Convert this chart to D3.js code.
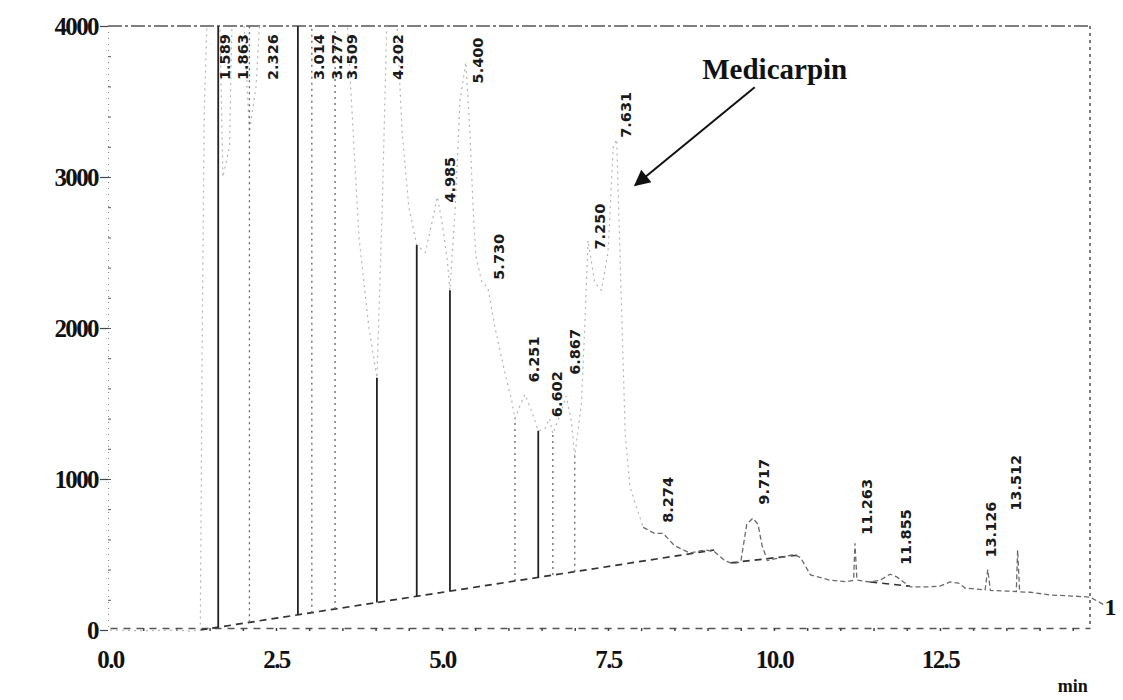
<!DOCTYPE html>
<html>
<head>
<meta charset="utf-8">
<script src="https://cdn.jsdelivr.net/npm/d3@7"></script>
<style>
  body { margin: 0; background: #fff; }
  svg { display: block; }
</style>
</head>
<body>
<svg id="chart" width="1123" height="700"></svg>
<script>
// labelled peaks (retention time, min)
const peakTimes = [1.589, 1.863, 2.326, 3.014, 3.277, 3.509, 4.202, 4.985, 5.400, 5.730, 6.251, 6.602, 6.867, 7.250, 7.631, 8.274, 9.717, 11.263, 11.855, 13.126, 13.512]
const peakLabels = ['1.589', '1.863', '2.326', '3.014', '3.277', '3.509', '4.202', '4.985', '5.400', '5.730', '6.251', '6.602', '6.867', '7.250', '7.631', '8.274', '9.717', '11.263', '11.855', '13.126', '13.512']
// level where the printer put each label (4500 = off scale)
const peakHeights = [4500, 4500, 4500, 4500, 4500, 4500, 4500, 2790, 3580, 2280, 1600, 1370, 1650, 2480, 3220, 670, 790, 590, 390, 440, 750]

// detector trace
const traceTimes = [0, 0.5, 1.0, 1.2, 1.36, 1.39, 1.42, 1.5, 1.63, 1.7, 1.8, 1.863, 1.95, 2.1, 2.2, 2.326, 2.5, 2.7, 2.83, 3.014, 3.1, 3.2, 3.277, 3.4, 3.509, 3.6, 3.75, 3.9, 4.02, 4.1, 4.202, 4.3, 4.4, 4.5, 4.62, 4.75, 4.85, 4.93, 5.0, 5.08, 5.12, 5.2, 5.27, 5.36, 5.42, 5.47, 5.51, 5.6, 5.69, 5.8, 5.95, 6.05, 6.1, 6.17, 6.25, 6.35, 6.45, 6.55, 6.62, 6.67, 6.8, 6.87, 6.95, 7.0, 7.1, 7.15, 7.2, 7.3, 7.4, 7.5, 7.58, 7.631, 7.71, 7.76, 7.83, 8.03, 8.2, 8.33, 8.5, 8.73, 8.96, 9.1, 9.26, 9.38, 9.5, 9.59, 9.68, 9.76, 9.82, 9.9, 10.1, 10.3, 10.4, 10.55, 10.84, 11.1, 11.2, 11.22, 11.25, 11.45, 11.6, 11.75, 11.855, 12.05, 12.3, 12.5, 12.65, 12.78, 12.88, 13.18, 13.22, 13.26, 13.5, 13.65, 13.67, 13.7, 13.86, 14.16, 14.5, 14.76, 15.0]
const traceValues = [0, -5, 0, -8, 0, 2000, 3440, 4600, 4600, 3000, 3200, 4600, 4600, 3300, 3600, 4600, 4600, 4000, 4600, 4600, 4000, 4200, 4600, 4200, 4600, 3800, 2600, 2000, 1670, 2800, 4600, 4200, 3300, 2800, 2550, 2500, 2700, 2870, 2700, 2450, 2250, 2800, 3500, 3760, 3300, 2780, 2480, 2300, 2270, 2000, 1700, 1520, 1400, 1480, 1560, 1450, 1320, 1330, 1400, 1300, 1450, 1550, 1380, 1150, 1500, 2000, 2580, 2300, 2250, 2500, 3200, 3250, 2050, 1300, 950, 680, 640, 640, 560, 510, 530, 520, 460, 440, 450, 700, 740, 700, 560, 460, 480, 500, 480, 365, 330, 320, 330, 575, 330, 318, 330, 370, 350, 285, 285, 290, 318, 310, 278, 265, 400, 262, 258, 255, 530, 252, 250, 232, 225, 218, 160]

// integration baselines
const baseTimes = [1.36, 9.1]
const baseValues = [0, 530]
const base2Times = [9.35, 10.35]
const base2Values = [445, 495]
const base3Times = [11.45, 12.05]
const base3Values = [318, 290]

// peak start / valley drop lines
const dropTimes = [1.63, 2.10, 2.83, 3.04, 3.39, 4.02, 4.62, 5.12, 6.10, 6.45, 6.67, 7.00]
const dropTops = [4600, 4600, 4600, 4600, 4600, 1670, 2550, 2250, 1400, 1320, 1300, 1150]
const dropSolid = [true, false, true, false, false, true, true, true, false, true, false, false]

const yTicks = [0, 1000, 2000, 3000, 4000]
const xTicks = [0, 2.5, 5, 7.5, 10, 12.5]

// annotation
const noteText = 'Medicarpin'
const notePos = [8.92, 3648]
const arrowFrom = [9.71, 3595]
const arrowTo = [7.91, 2946]

const d3 = window.d3
const svg = d3.select('#chart')

const x = d3.scaleLinear().domain([0, 14.76]).range([110, 1090])
const y = d3.scaleLinear().domain([0, 4000]).range([630, 26])
const x0 = x(0), x1 = x(14.76), yTop = y(4000), yBot = y(0)
const serif = '"Liberation Serif", "Times New Roman", serif'

const defs = svg.append('defs')
defs.append('clipPath').attr('id', 'plot')
  .append('rect')
  .attr('x', x0 - 2).attr('y', yTop)
  .attr('width', x1 - x0 + 40).attr('height', yBot - yTop + 10)

defs.append('marker')
  .attr('id', 'head')
  .attr('viewBox', '0 0 10 10')
  .attr('refX', 9).attr('refY', 5)
  .attr('markerWidth', 24).attr('markerHeight', 16)
  .attr('markerUnits', 'userSpaceOnUse')
  .attr('orient', 'auto')
  .append('path')
  .attr('d', 'M0,0 L10,5 L0,10 Z')
  .attr('fill', '#111')

// frame: top and right, printed as broken lines
svg.append('line')
  .attr('x1', x0 - 2).attr('x2', x1).attr('y1', yTop).attr('y2', yTop)
  .attr('stroke', '#555').attr('stroke-width', 1.4)
  .attr('stroke-dasharray', '14,3,3,3')
svg.append('line')
  .attr('x1', x1).attr('x2', x1).attr('y1', yTop).attr('y2', yBot - 4)
  .attr('stroke', '#444').attr('stroke-width', 1.4)
  .attr('stroke-dasharray', '3,4')

// y axis
const yAxis = svg.append('g')
  .attr('transform', 'translate(' + (x0 - 2) + ',0)')
  .call(d3.axisLeft(y).tickValues(yTicks).tickSize(8).tickPadding(2).tickFormat(d => d))
yAxis.select('.domain').attr('stroke', '#888').attr('stroke-dasharray', '1,5')
yAxis.selectAll('.tick line').attr('stroke', '#444').attr('stroke-width', 1.2)
yAxis.selectAll('text')
  .attr('font-family', serif)
  .attr('font-weight', 'bold').attr('font-size', 25)
  .attr('letter-spacing', -1.6).attr('fill', '#111')

// y minor ticks every 200
svg.append('g')
  .attr('transform', 'translate(' + (x0 - 2) + ',0)')
  .call(d3.axisRight(y).tickValues(d3.range(200, 4000, 200)).tickSize(3).tickFormat(''))
  .call(g => g.select('.domain').remove())
  .selectAll('line').attr('stroke', '#555')

// x axis
const xAxis = svg.append('g')
  .attr('transform', 'translate(0,' + (yBot - 2) + ')')
  .call(d3.axisBottom(x).tickValues(xTicks).tickSize(0).tickPadding(22).tickFormat(d3.format('.1f')))
xAxis.select('.domain').attr('stroke', '#555').attr('stroke-width', 1.3).attr('stroke-dasharray', '7,6')
xAxis.selectAll('text')
  .attr('font-family', serif)
  .attr('font-weight', 'bold').attr('font-size', 25)
  .attr('letter-spacing', -1.6).attr('fill', '#111')

// x minor ticks every 0.5 min
svg.append('g')
  .attr('transform', 'translate(0,' + (yBot - 2) + ')')
  .call(d3.axisBottom(x).tickValues(d3.range(0.5, 14.6, 0.5)).tickSize(3).tickFormat(''))
  .call(g => g.select('.domain').remove())
  .selectAll('line').attr('stroke', '#444').attr('stroke-width', 1.5)

svg.append('text')
  .attr('x', x(14.5)).attr('y', yBot + 62)
  .attr('text-anchor', 'middle')
  .attr('font-family', serif)
  .attr('font-weight', 'bold').attr('font-size', 18)
  .attr('fill', '#111')
  .text('min')

svg.append('text')
  .attr('x', x(14.98)).attr('y', y(100))
  .attr('font-family', serif)
  .attr('font-weight', 'bold').attr('font-size', 24)
  .attr('fill', '#111')
  .text('1')

const plot = svg.append('g').attr('clip-path', 'url(#plot)')

// baselines
const line = d3.line().x(d => x(d[0])).y(d => y(d[1]))
;[[baseTimes, baseValues], [base2Times, base2Values], [base3Times, base3Values]].forEach(function(b) {
  plot.append('path')
    .datum(d3.zip(b[0], b[1]))
    .attr('d', line)
    .attr('fill', 'none')
    .attr('stroke', '#333').attr('stroke-width', 1.7)
    .attr('stroke-dasharray', '7,5')
})

// trace: faint where the pen ran fast, darker in the slow tail
const trace = d3.zip(traceTimes, traceValues)
plot.append('path')
  .datum(trace.filter(d => d[0] <= 8.03))
  .attr('d', line)
  .attr('fill', 'none')
  .attr('stroke', '#b4b4b4').attr('stroke-width', 1.2)
  .attr('stroke-dasharray', '2,4')
plot.append('path')
  .datum(trace.filter(d => d[0] >= 8.03))
  .attr('d', line)
  .attr('fill', 'none')
  .attr('stroke', '#6a6a6a').attr('stroke-width', 1.3)
  .attr('stroke-dasharray', '5,3')

// drop lines from the baseline
const baseAt = d3.scaleLinear().domain(baseTimes).range(baseValues)
plot.selectAll('.drop')
  .data(dropTimes)
  .enter().append('line')
  .attr('class', 'drop')
  .attr('x1', d => x(d)).attr('x2', d => x(d))
  .attr('y1', d => y(baseAt(d)))
  .attr('y2', (d, i) => y(dropTops[i]))
  .attr('stroke', (d, i) => dropSolid[i] ? '#222' : '#666')
  .attr('stroke-width', (d, i) => dropSolid[i] ? 1.8 : 1.3)
  .attr('stroke-dasharray', (d, i) => dropSolid[i] ? null : '2,4')

// peak labels, rotated
svg.selectAll('.plabel')
  .data(peakTimes)
  .enter().append('text')
  .attr('class', 'plabel')
  .attr('transform', (d, i) => 'translate(' + (x(d) + 14) + ',' + Math.max(y(peakHeights[i]) - 6, 80) + ') rotate(-90)')
  .attr('font-family', '"DejaVu Sans", sans-serif')
  .attr('font-weight', 'bold').attr('font-size', 14.5)
  .attr('fill', '#1a1a1a')
  .text((d, i) => peakLabels[i])

// Medicarpin note
svg.append('text')
  .attr('x', x(notePos[0])).attr('y', y(notePos[1]))
  .attr('font-family', serif)
  .attr('font-weight', 'bold').attr('font-size', 29)
  .attr('fill', '#111')
  .text(noteText)

svg.append('line')
  .attr('x1', x(arrowFrom[0])).attr('y1', y(arrowFrom[1]))
  .attr('x2', x(arrowTo[0])).attr('y2', y(arrowTo[1]))
  .attr('stroke', '#111').attr('stroke-width', 2)
  .attr('marker-end', 'url(#head)')
</script>
</body>
</html>
